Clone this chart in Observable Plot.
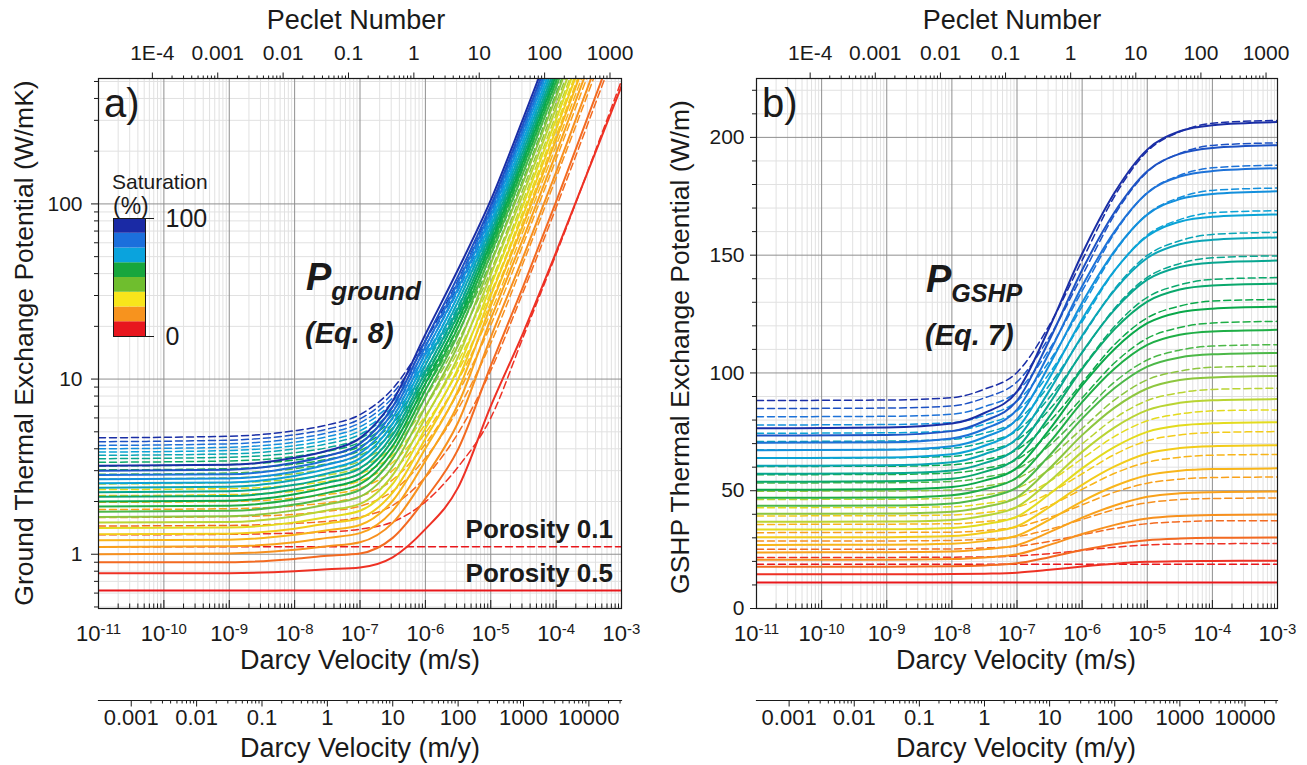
<!DOCTYPE html>
<html><head><meta charset="utf-8">
<script src="https://cdn.jsdelivr.net/npm/d3@7"></script>
<script src="https://cdn.jsdelivr.net/npm/@observablehq/plot@0.6"></script>
<style>
body{margin:0;background:#fff;}
#root{position:relative;width:1307px;height:765px;overflow:hidden;font-family:"Liberation Sans",Arial,sans-serif;color:#1a1a1a;background:#fff;}
.box{position:absolute;}
.box svg{display:block;max-width:none;}
.t{position:absolute;white-space:nowrap;line-height:1;}
</style></head><body><div id="root"></div>
<script>
// ---------------- data ----------------
const velocity = [1e-11, 1e-9, 1e-8, 3.16e-8, 1e-7, 3.16e-7, 1e-6, 3.16e-6, 1e-5, 3.16e-5, 1e-4, 1e-3]; // Darcy velocity (m/s)
const saturation = [0, 5, 10, 15, 20, 25, 30, 35, 40, 45, 50, 55, 60, 65, 70, 75, 80, 85, 90, 95, 100]; // %

// a) Ground thermal exchange potential (W/mK), porosity 0.5 (solid)
const groundPorosity05 = [
  [0.62, 0.62, 0.62, 0.62, 0.62, 0.62, 0.62, 0.62, 0.62, 0.62, 0.62, 0.62],
  [0.78, 0.78, 0.80, 0.82, 0.84, 0.96, 1.39, 2.40, 7.0, 18.5, 53, 470],
  [0.90, 0.90, 0.94, 0.98, 1.01, 1.24, 2.07, 3.97, 11.9, 34.1, 103, 1026],
  [1.00, 1.01, 1.06, 1.11, 1.17, 1.51, 2.76, 5.65, 17.3, 50.1, 152, 1521],
  [1.10, 1.11, 1.17, 1.24, 1.32, 1.77, 3.41, 7.18, 22.0, 64.0, 195, 1949],
  [1.20, 1.21, 1.29, 1.37, 1.47, 2.02, 4.01, 8.61, 26.2, 76.4, 233, 2329],
  [1.30, 1.31, 1.40, 1.50, 1.61, 2.25, 4.57, 9.93, 29.9, 87.3, 266, 2661],
  [1.41, 1.42, 1.52, 1.63, 1.77, 2.52, 5.22, 11.5, 34.0, 99.6, 304, 3041],
  [1.52, 1.53, 1.65, 1.78, 1.94, 2.83, 6.01, 13.4, 39.3, 115, 352, 3517],
  [1.63, 1.65, 1.78, 1.93, 2.13, 3.17, 6.94, 15.6, 45.5, 134, 409, 4087],
  [1.75, 1.77, 1.92, 2.09, 2.33, 3.54, 7.91, 18.0, 51.7, 152, 466, 4657],
  [1.87, 1.89, 2.06, 2.24, 2.51, 3.84, 8.66, 19.8, 56.0, 165, 504, 5037],
  [2.00, 2.02, 2.20, 2.40, 2.70, 4.16, 9.42, 21.6, 60.1, 177, 542, 5417],
  [2.13, 2.15, 2.34, 2.56, 2.89, 4.48, 10.2, 23.4, 64.3, 189, 580, 5797],
  [2.26, 2.29, 2.49, 2.72, 3.09, 4.80, 11.0, 25.3, 68.6, 202, 618, 6177],
  [2.40, 2.43, 2.65, 2.89, 3.31, 5.18, 12.0, 27.7, 73.8, 217, 665, 6652],
  [2.54, 2.57, 2.80, 3.07, 3.53, 5.57, 13.0, 30.0, 79.0, 233, 713, 7127],
  [2.68, 2.71, 2.96, 3.25, 3.76, 6.01, 14.1, 32.9, 85.3, 251, 770, 7698],
  [2.83, 2.86, 3.14, 3.44, 4.01, 6.46, 15.3, 35.7, 91.6, 270, 827, 8268],
  [3.00, 3.04, 3.33, 3.65, 4.28, 6.94, 16.6, 38.7, 97.9, 289, 884, 8838],
  [3.20, 3.24, 3.55, 3.90, 4.60, 7.50, 18.0, 42.2, 105, 310, 950, 9500]
];
// a) porosity 0.1 (dashed)
const groundPorosity01 = [
  [1.105, 1.105, 1.105, 1.105, 1.105, 1.105, 1.105, 1.105, 1.105, 1.105, 1.105, 1.105],
  [1.29, 1.30, 1.32, 1.34, 1.39, 1.53, 1.99, 3.15, 6.0, 17.5, 51.7, 506],
  [1.45, 1.46, 1.50, 1.54, 1.63, 1.90, 2.75, 4.91, 11.2, 31.7, 95.4, 941],
  [1.62, 1.64, 1.69, 1.76, 1.88, 2.29, 3.54, 6.74, 16.0, 46.4, 141, 1394],
  [1.80, 1.82, 1.89, 1.97, 2.14, 2.66, 4.26, 8.36, 20.3, 59.2, 180, 1785],
  [1.98, 2.00, 2.09, 2.19, 2.38, 3.01, 4.92, 9.82, 24.0, 70.6, 215, 2133],
  [2.16, 2.19, 2.29, 2.40, 2.62, 3.34, 5.52, 11.1, 27.4, 80.6, 246, 2438],
  [2.34, 2.37, 2.48, 2.61, 2.87, 3.68, 6.18, 12.6, 31.1, 91.9, 281, 2786],
  [2.52, 2.56, 2.69, 2.83, 3.13, 4.07, 6.96, 14.4, 35.8, 106, 324, 3222],
  [2.69, 2.73, 2.88, 3.06, 3.40, 4.50, 7.85, 16.5, 41.4, 123, 377, 3744],
  [2.86, 2.91, 3.08, 3.28, 3.67, 4.92, 8.74, 18.5, 47.0, 140, 429, 4266],
  [3.03, 3.08, 3.27, 3.48, 3.90, 5.26, 9.39, 20.0, 50.7, 151, 464, 4614],
  [3.19, 3.25, 3.45, 3.67, 4.13, 5.58, 10.0, 21.4, 54.5, 163, 499, 4962],
  [3.35, 3.41, 3.62, 3.87, 4.36, 5.91, 10.7, 22.9, 58.3, 174, 534, 5310],
  [3.51, 3.58, 3.80, 4.06, 4.58, 6.24, 11.3, 24.3, 62.0, 186, 569, 5659],
  [3.67, 3.74, 3.99, 4.27, 4.83, 6.61, 12.1, 26.1, 66.7, 200, 613, 6094],
  [3.83, 3.91, 4.17, 4.47, 5.07, 6.98, 12.8, 27.8, 71.3, 214, 656, 6529],
  [4.00, 4.08, 4.36, 4.69, 5.34, 7.40, 13.7, 29.9, 76.9, 231, 709, 7051],
  [4.18, 4.27, 4.57, 4.92, 5.62, 7.83, 14.6, 32.0, 82.5, 248, 761, 7573],
  [4.39, 4.48, 4.81, 5.18, 5.92, 8.30, 15.6, 34.2, 88.1, 265, 813, 8095],
  [4.62, 4.72, 5.07, 5.47, 6.27, 8.82, 16.6, 36.6, 94.6, 285, 875, 8705]
];
// b) GSHP thermal exchange potential (W/m), porosity 0.5 (solid)
const gshpPorosity05 = [
  [11, 11, 11, 11, 11, 11, 11, 11, 11, 11, 11, 11],
  [14.5, 14.5, 14.6, 14.8, 15.2, 16.4, 17.8, 19.0, 19.8, 20.1, 20.2, 20.3],
  [17.7, 17.7, 17.9, 18.3, 19.2, 21.8, 24.8, 27.3, 29.0, 29.7, 30.0, 30.1],
  [20.7, 20.7, 21.0, 21.7, 23.0, 27.0, 31.6, 35.5, 38.2, 39.3, 39.7, 39.9],
  [23.8, 23.9, 24.2, 25.1, 26.9, 32.4, 38.6, 43.7, 47.4, 48.9, 49.4, 49.7],
  [27.0, 27.1, 27.5, 28.6, 30.9, 37.7, 45.5, 52.0, 56.6, 58.5, 59.2, 59.5],
  [30.2, 30.3, 30.8, 32.2, 34.9, 43.1, 52.5, 60.3, 65.8, 68.1, 68.9, 69.3],
  [33.5, 33.6, 34.2, 35.8, 39.0, 48.6, 59.5, 68.6, 75.0, 77.7, 78.6, 79.1],
  [36.8, 36.9, 37.6, 39.4, 43.1, 54.0, 66.5, 76.9, 84.2, 87.3, 88.4, 88.9],
  [40.2, 40.3, 41.1, 43.1, 47.2, 59.5, 73.6, 85.3, 93.4, 97.0, 98.1, 98.7],
  [43.6, 43.7, 44.6, 46.9, 51.4, 65.0, 80.6, 93.6, 102.7, 106.6, 107.9, 108.5],
  [47.0, 47.1, 48.1, 50.6, 55.6, 70.5, 87.6, 101.9, 111.9, 116.2, 117.6, 118.3],
  [50.4, 50.6, 51.6, 54.3, 59.7, 76.0, 94.7, 110.2, 121.1, 125.8, 127.3, 128.1],
  [53.8, 54.0, 55.1, 58.0, 63.9, 81.6, 101.7, 118.6, 130.3, 135.4, 137.1, 137.9],
  [57.2, 57.4, 58.6, 61.7, 68.1, 87.1, 108.8, 126.9, 139.6, 145.0, 146.8, 147.7],
  [60.6, 60.8, 62.1, 65.5, 72.2, 92.6, 115.8, 135.2, 148.8, 154.6, 156.5, 157.5],
  [63.9, 64.1, 65.5, 69.1, 76.3, 98.0, 122.8, 143.5, 158.0, 164.2, 166.3, 167.3],
  [67.2, 67.4, 68.9, 72.7, 80.4, 103.5, 129.8, 151.8, 167.2, 173.8, 176.0, 177.1],
  [70.4, 70.6, 72.2, 76.2, 84.4, 108.8, 136.8, 160.1, 176.4, 183.4, 185.7, 186.9],
  [73.4, 73.7, 75.3, 79.6, 88.2, 114.1, 143.7, 168.3, 185.6, 193.0, 195.5, 196.7],
  [76.5, 76.8, 78.5, 83.0, 92.1, 119.4, 150.6, 176.6, 194.8, 202.6, 205.2, 206.5]
];
// b) porosity 0.1 (dashed)
const gshpPorosity01 = [
  [18.8, 18.8, 18.8, 18.8, 18.8, 18.8, 18.8, 18.8, 18.8, 18.8, 18.8, 18.8],
  [21.7, 21.7, 21.8, 21.9, 22.3, 23.3, 24.7, 26.0, 27.0, 27.4, 27.5, 27.6],
  [25.2, 25.2, 25.3, 25.7, 26.4, 28.5, 31.3, 34.0, 36.0, 36.8, 37.2, 37.3],
  [28.7, 28.7, 28.9, 29.4, 30.5, 33.6, 37.8, 42.0, 44.9, 46.2, 46.7, 46.9],
  [32.2, 32.3, 32.4, 33.1, 34.6, 38.6, 44.0, 49.4, 53.2, 54.9, 55.6, 55.8],
  [35.7, 35.8, 36.0, 36.9, 38.7, 43.7, 50.6, 57.4, 62.1, 64.2, 65.1, 65.4],
  [39.3, 39.4, 39.7, 40.7, 42.9, 49.0, 57.2, 65.4, 71.2, 73.7, 74.7, 75.1],
  [42.8, 42.9, 43.2, 44.5, 47.0, 54.0, 63.6, 73.1, 79.7, 82.6, 83.9, 84.3],
  [46.3, 46.4, 46.8, 48.2, 51.0, 59.0, 69.9, 80.8, 88.3, 91.6, 93.0, 93.5],
  [49.8, 49.9, 50.3, 51.9, 55.1, 64.1, 76.4, 88.6, 97.1, 100.8, 102.4, 102.9],
  [53.3, 53.4, 53.9, 55.7, 59.2, 69.2, 82.7, 96.2, 105.5, 109.7, 111.4, 112.0],
  [56.8, 56.9, 57.5, 59.4, 63.3, 74.4, 89.4, 104.3, 114.7, 119.3, 121.2, 121.9],
  [60.3, 60.4, 61.0, 63.1, 67.4, 79.4, 95.8, 112.1, 123.4, 128.4, 130.5, 131.2],
  [63.8, 64.0, 64.6, 66.9, 71.5, 84.5, 102.2, 119.8, 132.1, 137.4, 139.7, 140.5],
  [67.3, 67.5, 68.1, 70.6, 75.5, 89.6, 108.5, 127.5, 140.6, 146.4, 148.9, 149.7],
  [70.9, 71.1, 71.8, 74.5, 79.8, 94.9, 115.3, 135.7, 149.9, 156.1, 158.8, 159.7],
  [74.4, 74.6, 75.4, 78.2, 83.9, 99.9, 121.7, 143.4, 158.5, 165.1, 168.0, 168.9],
  [77.9, 78.1, 78.9, 81.9, 88.0, 105.1, 128.2, 151.3, 167.4, 174.5, 177.5, 178.5],
  [81.4, 81.6, 82.5, 85.7, 92.1, 110.2, 134.8, 159.4, 176.5, 183.9, 187.1, 188.2],
  [84.9, 85.1, 86.0, 89.4, 96.2, 115.4, 141.3, 167.2, 185.3, 193.2, 196.6, 197.7],
  [88.3, 88.5, 89.5, 93.1, 100.2, 120.4, 147.8, 175.1, 194.1, 202.4, 206.0, 207.2]
];

// colours of the saturation levels (0 % red ... 100 % dark blue)
const lineColors = ["#e8161b","#ee3124","#f36a21","#f7901e","#f9a11b","#f8b51a","#f2cc1a","#e3db1e","#b9d433","#8dc63f","#4cb848","#1fae46","#0aa84a","#0aa86c","#08a690","#0aa5b6","#0ba3d6","#138fdc","#1d72d8","#1d52c4","#1a2ea6"];
const legendColors = ["#e8161e","#f7931e","#f8e51b","#6fbe2e","#17a63d","#0aa3dd","#1b6fdc","#1a2aa5"]; // bottom -> top
const legendTicks = [0, 100];

// axes
const darcyTicks = [1e-11, 1e-10, 1e-9, 1e-8, 1e-7, 1e-6, 1e-5, 1e-4, 1e-3];
const pecletTicks = [1e-4, 1e-3, 0.01, 0.1, 1, 10, 100, 1000];
const pecletLabels = ["1E-4", "0.001", "0.01", "0.1", "1", "10", "100", "1000"];
const pecletPerDarcy = 1.5e6;          // Pe = 1 at v ≈ 6.7e-7 m/s
const secondsPerYear = 31557600;
const myTicks = [0.001, 0.01, 0.1, 1, 10, 100, 1000, 10000];
const groundTicks = [1, 10, 100];
const gshpTicks = [0, 50, 100, 150, 200];

// ---------------- helpers ----------------
const FONT = '"Liberation Sans", Arial, sans-serif';
const NS = "http://www.w3.org/2000/svg";
const root = document.getElementById("root");

function minorLog(fromExp, toExp, lo, hi) {
  const out = [];
  for (let e = fromExp; e <= toExp; e++) for (let k = 2; k <= 9; k++) {
    const v = +(k + "e" + e);
    if (v >= lo && v <= hi) out.push(v);
  }
  return out;
}
const darcyMinor = minorLog(-11, -4, 1e-11, 1e-3);
const pecletMinor = minorLog(-4, 3, 1e-4, 1e-3 * pecletPerDarcy);
const myMinor = minorLog(-3, 4, 0.001, 1e-3 * secondsPerYear);
const groundMinor = minorLog(-1, 2, 0.49, 520);
const gshpMinor = d3.range(10, 225, 10).filter(v => v % 50 !== 0);

function rows(table, phi) {
  return table.flatMap((row, i) => row.map((p, j) => ({v: velocity[j], p, sr: saturation[i], ci: i, phi})));
}
function superscripts(svg) {
  svg.querySelectorAll("text").forEach(t => {
    const m = /^10\^(-?\d+)$/.exec(t.textContent);
    if (!m) return;
    t.textContent = "";
    const a = document.createElementNS(NS, "tspan"); a.textContent = "10";
    const b = document.createElementNS(NS, "tspan");
    b.setAttribute("dy", "-0.5em"); b.setAttribute("font-size", "0.68em"); b.textContent = m[1];
    t.append(a, b);
  });
}
function place(node, left, top) {
  const d = document.createElement("div");
  d.className = "box"; d.style.left = left + "px"; d.style.top = top + "px";
  d.appendChild(node); root.appendChild(d);
}
function text(str, {x, base, size = 27, weight = "normal", style = "normal", anchor = "start", rotate = false}) {
  const d = document.createElement("div");
  d.className = "t"; d.textContent = str;
  d.style.fontSize = size + "px"; d.style.fontWeight = weight; d.style.fontStyle = style;
  if (rotate) {
    d.style.left = x + "px"; d.style.top = base + "px";
    d.style.transform = "translate(-50%,-50%) rotate(-90deg)";
  } else {
    d.style.left = x + "px"; d.style.top = (base - 0.847 * size) + "px";
    if (anchor === "middle") d.style.transform = "translateX(-50%)";
    if (anchor === "end") d.style.transform = "translateX(-100%)";
  }
  root.appendChild(d);
  return d;
}

const H = 680, MT = 78, MB = 72, innerH = H - MT - MB;

function panel({width, marginLeft, marginRight, yType, yDomain, yMajor, yMinor, ySize, yPad, solid, dashed}) {
  const svg = Plot.plot({
    width, height: H, marginLeft, marginRight, marginTop: MT, marginBottom: MB,
    style: {fontFamily: FONT, fontSize: "21px", color: "#1a1a1a", background: "transparent", overflow: "visible", maxWidth: "none"},
    x: {type: "log", domain: [1e-11, 1e-3], axis: null},
    y: {type: yType, domain: yDomain, axis: null},
    color: {type: "identity"},
    marks: [
      Plot.ruleX(darcyMinor, {x: d => d, stroke: "#e1e1e1", strokeWidth: 1}),
      Plot.ruleY(yMinor, {y: d => d, stroke: "#e1e1e1", strokeWidth: 1}),
      Plot.ruleX(darcyTicks, {x: d => d, stroke: "#8f8f8f", strokeWidth: 1}),
      Plot.ruleY(yMajor, {y: d => d, stroke: "#8f8f8f", strokeWidth: 1}),
      Plot.line(dashed, {x: "v", y: "p", z: "sr", stroke: d => lineColors[d.ci], strokeWidth: 1.5, strokeDasharray: "7,4", curve: "monotone-x", clip: true}),
      Plot.line(solid, {x: "v", y: "p", z: "sr", stroke: d => lineColors[d.ci], strokeWidth: 2, curve: "monotone-x", clip: true}),
      Plot.frame({stroke: "#1a1a1a", strokeWidth: 1.2}),
      Plot.tickX(darcyTicks, {x: d => d, insetTop: innerH - 8, stroke: "#1a1a1a"}),
      Plot.tickX(darcyMinor, {x: d => d, insetTop: innerH - 4.5, stroke: "#1a1a1a"}),
      Plot.axisX({anchor: "bottom", ticks: darcyTicks, tickSize: 0, tickPadding: 17, fontSize: 22, label: null,
        tickFormat: d => "10^" + Math.round(Math.log10(d))}),
      Plot.axisX({anchor: "top", ticks: pecletTicks.map(p => p / pecletPerDarcy), tickSize: 6.5, label: null, tickFormat: () => ""}),
      Plot.axisX({anchor: "top", ticks: pecletMinor.map(p => p / pecletPerDarcy), tickSize: 3.5, label: null, tickFormat: () => ""}),
      Plot.text(pecletTicks, {x: p => p / pecletPerDarcy, text: (p, i) => pecletLabels[i], frameAnchor: "top", lineAnchor: "bottom", dy: -18.5, fontSize: 21, fill: "#1a1a1a"}),
      Plot.axisY({anchor: "left", ticks: yMajor, tickSize: ySize, tickPadding: yPad, fontSize: 21, label: null, tickFormat: d => String(d)}),
      Plot.axisY({anchor: "left", ticks: yMinor, tickSize: 4, label: null, tickFormat: () => ""})
    ]
  });
  superscripts(svg);
  return svg;
}

function yearAxis({width, marginLeft, marginRight}) {
  return Plot.plot({
    width, height: 85, marginLeft, marginRight, marginTop: 15, marginBottom: 65,
    style: {fontFamily: FONT, fontSize: "22px", color: "#1a1a1a", background: "transparent", overflow: "visible", maxWidth: "none"},
    x: {type: "log", domain: [1e-11 * secondsPerYear, 1e-3 * secondsPerYear], axis: null},
    marks: [
      Plot.frame({anchor: "bottom", stroke: "#1a1a1a", strokeWidth: 1.2}),
      Plot.axisX({anchor: "bottom", ticks: myTicks, tickSize: 6.5, tickPadding: 2, fontSize: 22, label: null, tickFormat: d => String(d)}),
      Plot.axisX({anchor: "bottom", ticks: myMinor, tickSize: 3.5, label: null, tickFormat: () => ""})
    ]
  });
}

// ---------------- panel a ----------------
place(panel({
  width: 650, marginLeft: 98, marginRight: 29,
  yType: "log", yDomain: [0.49, 520], yMajor: groundTicks, yMinor: groundMinor, ySize: 7, yPad: 9,
  solid: rows(groundPorosity05, "0.5"), dashed: rows(groundPorosity01, "0.1")
}), 0, 0);
place(yearAxis({width: 650, marginLeft: 98, marginRight: 29}), 0, 680);

// ---------------- panel b ----------------
place(panel({
  width: 654, marginLeft: 103, marginRight: 30,
  yType: "linear", yDomain: [0, 225], yMajor: gshpTicks, yMinor: gshpMinor, ySize: 6, yPad: 6,
  solid: rows(gshpPorosity05, "0.5"), dashed: rows(gshpPorosity01, "0.1")
}), 653, 0);
place(yearAxis({width: 654, marginLeft: 103, marginRight: 30}), 653, 680);

// ---------------- legend ----------------
const legendBands = legendColors.map((color, i) => ({from: i * 100 / legendColors.length, to: (i + 1) * 100 / legendColors.length, color}));
place(Plot.plot({
  width: 110, height: 138, marginTop: 10, marginBottom: 10, marginLeft: 0, marginRight: 78,
  style: {fontFamily: FONT, fontSize: "25px", color: "#1a1a1a", background: "transparent", overflow: "visible", maxWidth: "none"},
  y: {domain: [0, 100], axis: null},
  color: {type: "identity"},
  marks: [
    Plot.rect(legendBands, {y1: "from", y2: "to", fill: "color"}),
    Plot.frame({stroke: "#1a1a1a", strokeWidth: 1}),
    Plot.axisY({anchor: "right", ticks: legendTicks, tickSize: 8, tickPadding: 12, fontSize: 25, label: null, tickFormat: d => String(d)})
  ]
}), 113, 208);

// ---------------- texts ----------------
text("Peclet Number", {x: 356, base: 30, anchor: "middle"});
text("Peclet Number", {x: 1012, base: 30, anchor: "middle"});
text("Darcy Velocity (m/s)", {x: 360, base: 670, anchor: "middle"});
text("Darcy Velocity (m/s)", {x: 1016, base: 670, anchor: "middle"});
text("Darcy Velocity (m/y)", {x: 360, base: 758, anchor: "middle"});
text("Darcy Velocity (m/y)", {x: 1016, base: 758, anchor: "middle"});
text("Ground Thermal Exchange Potential (W/mK)", {x: 24, base: 343, size: 26.5, rotate: true});
text("GSHP Thermal Exchange Potential (W/m)", {x: 680, base: 347, size: 26.5, rotate: true});
text("a)", {x: 104, base: 117, size: 40});
text("b)", {x: 762, base: 117, size: 40});
text("Saturation", {x: 112, base: 189, size: 21});
text("(%)", {x: 113, base: 214, size: 23});
text("Porosity 0.1", {x: 613, base: 538, size: 26, weight: "bold", anchor: "end"});
text("Porosity 0.5", {x: 613, base: 582, size: 26, weight: "bold", anchor: "end"});

function eqLabel(main, sub, x, base, subSize, eq, eqBase) {
  const d = text(main, {x, base, size: 38, weight: "bold", style: "italic"});
  const s = document.createElement("span");
  s.textContent = sub; s.style.fontSize = subSize + "px"; s.style.position = "relative"; s.style.top = "10px";
  d.appendChild(s);
  text(eq, {x: x - 1, base: eqBase, size: 29, weight: "bold", style: "italic"});
}
eqLabel("P", "ground", 306, 290, 26, "(Eq. 8)", 344);
eqLabel("P", "GSHP", 926, 292, 25, "(Eq. 7)", 346);
</script></body></html>
